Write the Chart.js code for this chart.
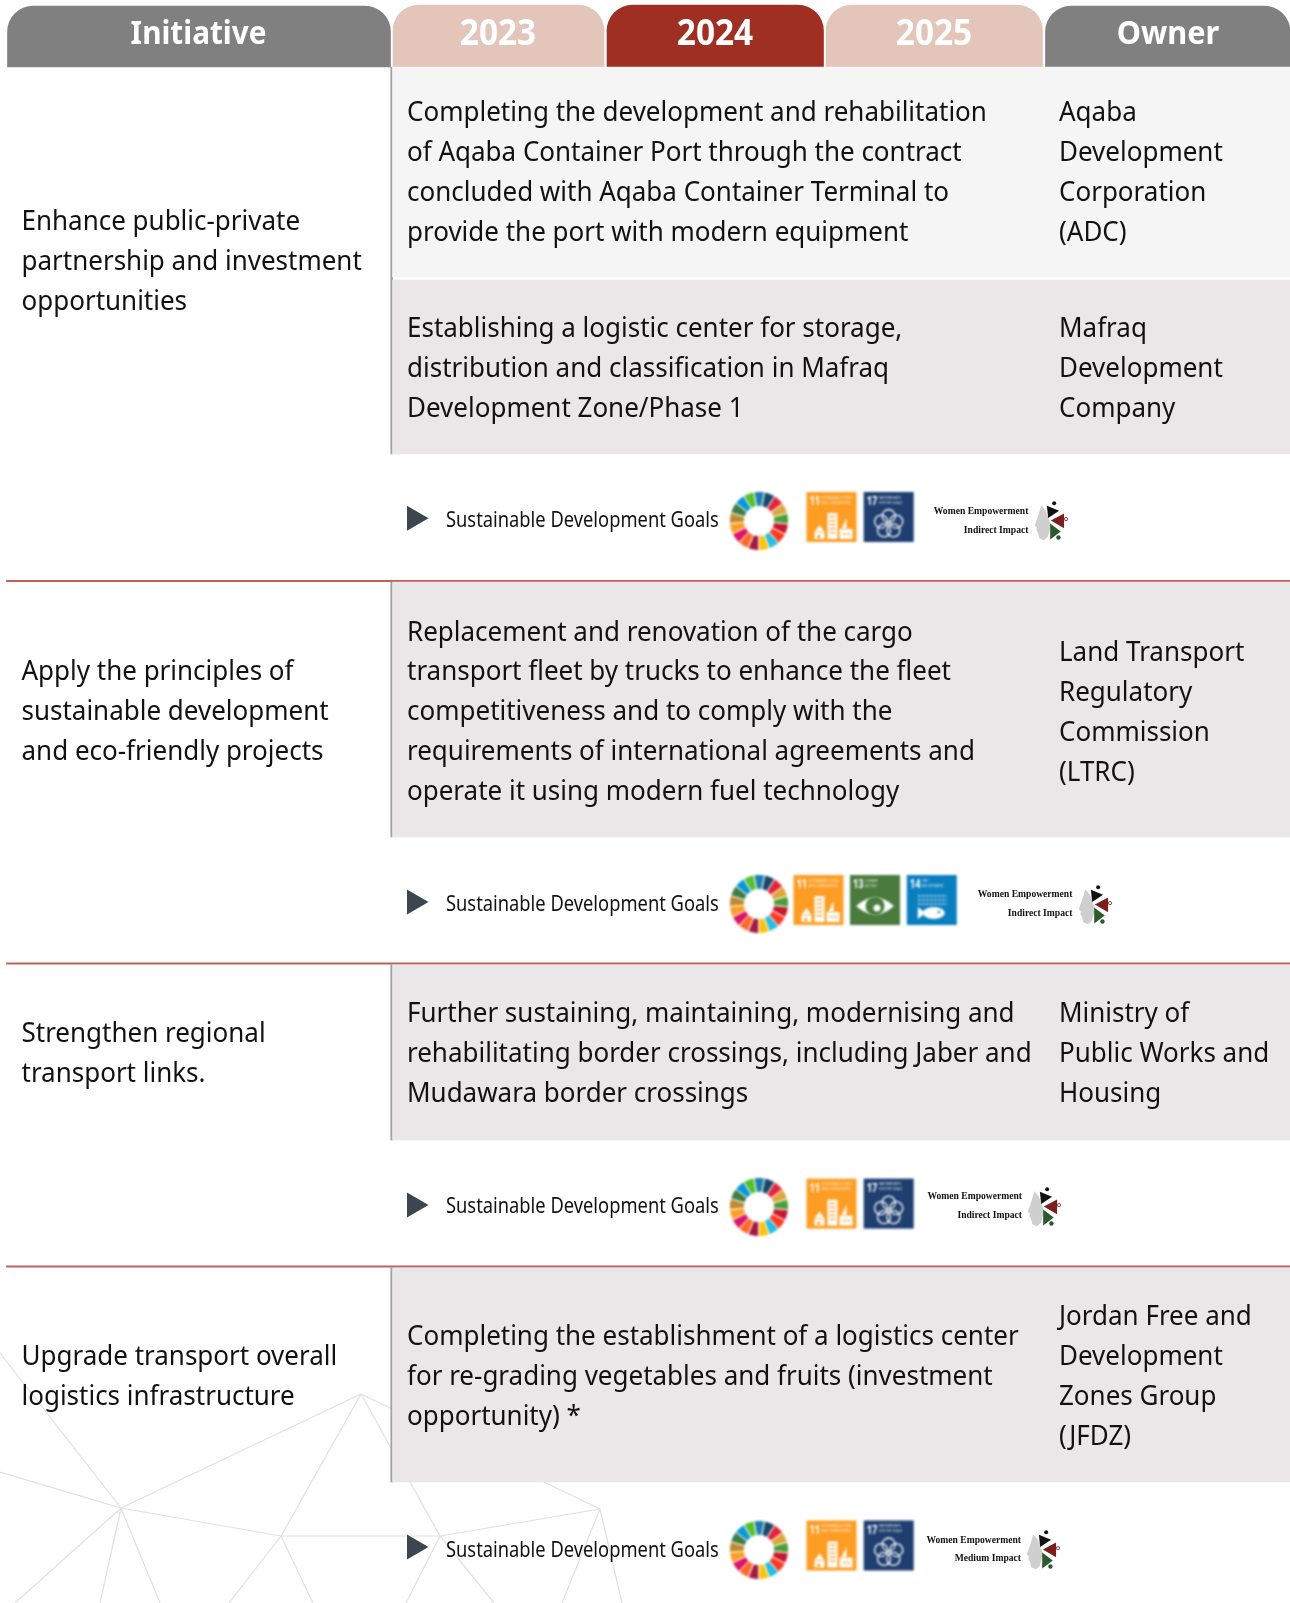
<!DOCTYPE html>
<html><head><meta charset="utf-8">
<script src="https://cdn.jsdelivr.net/npm/chart.js@4"></script>
<style>
html,body{margin:0;padding:0;background:#fff;width:1290px;height:1603px;overflow:hidden}
#wrap{position:relative;width:1290px;height:1603px}
#wrap canvas{position:absolute}
</style></head><body><div id="wrap"><canvas id="main" width="1290" height="1603" style="left:0;top:0"></canvas></div>
<script>
// ---------- content ----------
const headers = ["Initiative","2023","2024","2025","Owner"];
const initiatives = [
 ["Enhance public-private","partnership and investment","opportunities"],
 ["Apply the principles of","sustainable development","and eco-friendly projects"],
 ["Strengthen regional","transport links."],
 ["Upgrade transport overall","logistics infrastructure"]];
const projects = [
 ["Completing the development and rehabilitation","of Aqaba Container Port through the contract","concluded with Aqaba Container Terminal to","provide the port with modern equipment"],
 ["Establishing a logistic center for storage,","distribution and classification in Mafraq","Development Zone/Phase 1"],
 ["Replacement and renovation of the cargo","transport fleet by trucks to enhance the fleet","competitiveness and to comply with the","requirements of international agreements and","operate it using modern fuel technology"],
 ["Further sustaining, maintaining, modernising and","rehabilitating border crossings, including Jaber and","Mudawara border crossings"],
 ["Completing the establishment of a logistics center","for re-grading vegetables and fruits (investment","opportunity) *"]];
const owners = [
 ["Aqaba","Development","Corporation","(ADC)"],
 ["Mafraq","Development","Company"],
 ["Land Transport","Regulatory","Commission","(LTRC)"],
 ["Ministry of","Public Works and","Housing"],
 ["Jordan Free and","Development","Zones Group","(JFDZ)"]];
const sdgLabel = "Sustainable Development Goals";
const womenTitle = "Women Empowerment";
const womenImpact = ["Indirect Impact","Indirect Impact","Indirect Impact","Medium Impact"];
const goalSets = [[11,17],[11,13,14],[11,17],[11,17]];
const goalCaptions = {11:["SUSTAINABLE CITIES","AND COMMUNITIES"],13:["CLIMATE","ACTION"],14:["LIFE","BELOW WATER"],17:["PARTNERSHIPS","FOR THE GOALS"]};
const wheelShares = [1,1,1,1,1,1,1,1,1,1,1,1,1,1,1,1,1];

// ---------- layout (page pixels) ----------
const headerCells = [[7.5,390.5,6],[393,604,5],[607,823.5,5],[826,1042.5,5],[1045.5,1290,6]];
const headerColors = ["#808080","#e3c5ba","#9f2e23","#e3c5ba","#808080"];
const bands = [[67,277,"#f5f5f5"],[280,454,"#e9e7e8"],[582,837,"#e9e7e8"],[965,1140,"#e9e7e8"],[1268,1482,"#e9e7e8"]];
const rules = [581,963.5,1266.6];
const dividers = [[67,454],[582,837],[965,1140],[1268,1482]];
const netNodes = {A:[121,1508],B:[361,1394],C:[281,1536],D:[440,1536],E:[600,1509]};
const netSegments = [[[0,1353],"A"],[[0,1472],"A"],["A","B"],["A","C"],["A",[15,1603]],["A",[100,1603]],["A",[160,1603]],
 ["B","C"],["B","D"],["B","E"],["C","D"],["D","E"],["C",[229,1603]],["C",[313,1603]],["D",[406,1603]],["D",[494,1603]],["E",[562,1603]],["E",[622,1603]]];
const LH = 39.87;
const initBase = [229.8,680.3,1042.2,1365.2];
const projBase = [121.2,337,640.5,1021.9,1345];
const ownerBase = [121.2,337,661,1021.9,1325.4];
const strips = [
 {text:527,tri:518.3,wheel:[759,521],tileX:[806.5,863.7],tileY:492,wr:1028.4,wy:[511,530],logo:[1035,503]},
 {text:910.5,tri:902,wheel:[758.5,904],tileX:[793.5,850,906.8],tileY:875,wr:1072.4,wy:[894,913],logo:[1079,887]},
 {text:1213,tri:1205,wheel:[758.5,1207],tileX:[806.5,863.7],tileY:1178.6,wr:1022,wy:[1196,1214.5],logo:[1028,1189]},
 {text:1556.5,tri:1547,wheel:[758.5,1549.5],tileX:[806.5,863.7],tileY:1520.5,wr:1021,wy:[1540,1558],logo:[1027,1532]}];
const tileColors = {11:"#fd9d24",13:"#4a7b3c",14:"#0a7fc0",17:"#1f3f70"};
const wheelColors = ["#1d7fb0","#19486a","#e5243b","#dda63a","#4c9f38","#c5192d","#ff3a21","#26bde2","#fcc30b","#a21942","#fd6925","#dd1367","#fd9d24","#bf8b2e","#3f7e44","#0a97d9","#56c02b"];
const BODY = {font:'27.5px "Noto Sans"',sx:0.945};
const HEADS = [{font:'bold 33px "Noto Sans"',sx:0.9},{font:'bold 35.5px "Noto Sans"',sx:0.94},{font:'bold 35.5px "Noto Sans"',sx:0.94},{font:'bold 35.5px "Noto Sans"',sx:0.94},{font:'bold 33px "Noto Sans"',sx:0.93}];
const SDG = {font:'21px "Noto Sans"',sx:0.872};

function txt(c,s,x,y,st,color,align){
  c.save();c.font=st.font;c.fillStyle=color;c.textBaseline='alphabetic';c.textAlign=align||'left';
  c.translate(x,y);c.scale(st.sx,1);c.fillText(s,0,0);c.restore();
}
function poly(c,pts,col){c.fillStyle=col;c.beginPath();pts.forEach((p,i)=>i?c.lineTo(p[0],p[1]):c.moveTo(p[0],p[1]));c.closePath();c.fill();}
function tile(c,g,x,y){
  const s=50;c.fillStyle=tileColors[g];c.fillRect(x,y,s,s);
  const W='#fff';
  txt(c,String(g),x+3,y+13,{font:'bold 13px "Noto Sans"',sx:.72},W);
  goalCaptions[g].forEach((t,i)=>txt(c,t,x+15,y+6.5+i*5,{font:'3.3px "Noto Sans"',sx:.95},'rgba(255,255,255,.85)'));
  c.fillStyle=W;
  if(g===11){
    [[8,40,10,7],[21,21,10,26],[33,37,13,10]].forEach(r=>c.fillRect(x+r[0],y+r[1],r[2],r[3]));
    poly(c,[[x+8,y+40],[x+13,y+33],[x+18,y+40]],W);
    poly(c,[[x+35,y+37],[x+40,y+26],[x+40,y+37]],W);
    c.fillStyle=tileColors[g];[24,28,32,36,40].forEach(d=>c.fillRect(x+23,y+d,6,1.3));
    c.fillRect(x+11,y+43,2.5,4);c.fillRect(x+37,y+41,2,2);c.fillRect(x+41,y+41,2,2);
  } else if(g===17){
    c.strokeStyle=W;c.lineWidth=1.3;
    for(let i=0;i<5;i++){const a=-Math.PI/2+i*2*Math.PI/5;c.beginPath();c.arc(x+25+8*Math.cos(a),y+32+8*Math.sin(a),6.5,0,7);c.stroke();}
  } else if(g===13){
    c.beginPath();c.moveTo(x+6,y+31);c.quadraticCurveTo(x+25,y+14,x+44,y+31);c.quadraticCurveTo(x+25,y+48,x+6,y+31);c.fill();
    c.fillStyle=tileColors[g];c.beginPath();c.arc(x+25,y+31,9.5,0,7);c.fill();
    c.fillStyle=W;c.beginPath();c.arc(x+27,y+33,3.5,0,7);c.fill();
  } else {
    c.strokeStyle=W;c.lineWidth=1;[21,25,29].forEach(d=>{c.setLineDash([3,1]);c.beginPath();c.moveTo(x+11,y+d);c.lineTo(x+40,y+d);c.stroke();});c.setLineDash([]);
    c.beginPath();c.ellipse(x+27,y+38,11,6,0,0,7);c.fill();
    poly(c,[[x+19,y+38],[x+11,y+32],[x+11,y+44]],W);
    c.fillStyle=tileColors[g];c.beginPath();c.arc(x+32,y+37,1.3,0,7);c.fill();
  }
}
function logo(c,x,y){
  const P=(u,v)=>[x+(u-345)*0.33,y+(v-45)*0.335];
  const M=a=>a.map(p=>P(p[0],p[1]));
  poly(c,M([[364,52],[356,80],[350,96],[344,112],[351,118],[349,126],[354,133],[358,150],[372,156],[384,146],[394,112],[378,68]]),'#cfcfcf');
  poly(c,M([[381,53],[418,68],[385,90]]),'#111');
  poly(c,M([[393,97],[433,76],[433,120]]),'#7d1e1e');
  poly(c,M([[391,106],[423,130],[391,154]]),'#2c5a2e');
  let q=P(403,46);c.fillStyle='#111';c.beginPath();c.arc(q[0],q[1],2,0,7);c.fill();
  q=P(416,148);c.fillStyle='#2c5a2e';c.beginPath();c.arc(q[0],q[1],2.2,0,7);c.fill();
  q=P(439,93);c.strokeStyle='#8d2a2a';c.lineWidth=.9;c.beginPath();c.arc(q[0],q[1],1.6,0,7);c.stroke();
}
const pageText = {id:'pageText',afterDatasetsDraw(chart){
  const c=chart.ctx;c.save();
  c.filter='blur(0.45px)';
  const cx=[198.5,498,715,934,1168];
  const by=[44,45,45,45,44];
  headers.forEach((h,i)=>txt(c,h,cx[i],by[i],HEADS[i],'#fff','center'));
  initiatives.forEach((ls,i)=>ls.forEach((l,j)=>txt(c,l,21.5,initBase[i]+j*LH,BODY,'#111')));
  projects.forEach((ls,i)=>ls.forEach((l,j)=>txt(c,l,407,projBase[i]+j*LH,BODY,'#111')));
  owners.forEach((ls,i)=>ls.forEach((l,j)=>txt(c,l,1059,ownerBase[i]+j*LH,BODY,'#111')));
  strips.forEach((s,i)=>{
    poly(c,[[407,s.tri-12.5],[428.5,s.tri],[407,s.tri+12.5]],'#3c4650');
    txt(c,sdgLabel,446,s.text,SDG,'#111');
    c.filter='blur(0.9px)';
    goalSets[i].forEach((g,k)=>tile(c,g,s.tileX[k],s.tileY));
    c.filter='blur(0.6px)';
    const W={font:'bold 9.6px "Liberation Serif"',sx:1};
    txt(c,womenTitle,s.wr,s.wy[0]+3,W,'#111','right');
    txt(c,womenImpact[i],s.wr,s.wy[1]+3,W,'#111','right');
    logo(c,s.logo[0],s.logo[1]);
    c.filter='blur(0.45px)';
  });
  c.restore();
}};
const xy=n=>typeof n==='string'?netNodes[n]:n;
const barDs=(l,r,t,b,col,radius)=>({type:'bar',data:[{x:[l,r],y:(t+b)/2}],barThickness:b-t,backgroundColor:col,borderWidth:0,borderSkipped:false,grouped:false,borderRadius:radius||0,order:1});
const datasets=[];
netSegments.forEach(s=>{const a=xy(s[0]),b=xy(s[1]);
  datasets.push({type:'scatter',showLine:true,data:[{x:a[0],y:a[1]},{x:b[0],y:b[1]}],borderColor:'#e0e0e0',borderWidth:1.2,pointRadius:0,order:5});});
bands.forEach(b=>datasets.push(barDs(392.5,1290,b[0],b[1],b[2])));
headerCells.forEach((h,i)=>datasets.push(barDs(h[0],h[1],h[2],67,headerColors[i],{topLeft:26,topRight:26,bottomLeft:0,bottomRight:0})));
rules.forEach(y=>datasets.push(barDs(6.5,1290,y-.65,y+.65,'#c0605a')));
dividers.forEach(d=>datasets.push(barDs(390.8,392.6,d[0],d[1],'#a0a0a0')));
new Chart(document.getElementById('main'),{
  type:'bar',
  data:{datasets},
  plugins:[pageText],
  options:{indexAxis:'y',responsive:false,animation:false,devicePixelRatio:1,
    layout:{padding:0},
    plugins:{legend:{display:false},tooltip:{enabled:false},title:{display:false}},
    events:[],
    scales:{
      x:{type:'linear',display:false,min:0,max:1290,offset:false},
      y:{type:'linear',display:false,min:0,max:1603,reverse:true,offset:false}
    }}
});
strips.forEach(s=>{
  const cv=document.createElement('canvas');cv.width=60;cv.height=60;
  cv.style.left=(s.wheel[0]-30)+'px';cv.style.top=(s.wheel[1]-30)+'px';cv.style.filter='blur(1px)';
  document.getElementById('wrap').appendChild(cv);
  new Chart(cv,{type:'doughnut',
    data:{labels:wheelColors.map((_,i)=>'Goal '+(i+1)),datasets:[{data:wheelShares,backgroundColor:wheelColors,borderColor:'#fff',borderWidth:1}]},
    options:{responsive:false,animation:false,devicePixelRatio:1,cutout:'50%',rotation:-10,layout:{padding:0},events:[],plugins:{legend:{display:false},tooltip:{enabled:false}}}});
});
</script></body></html>
